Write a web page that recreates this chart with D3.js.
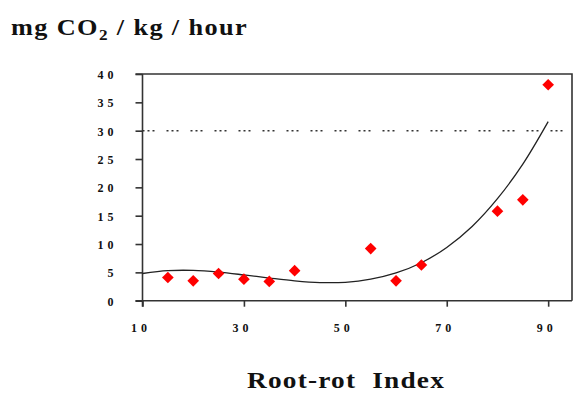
<!DOCTYPE html>
<html>
<head>
<meta charset="utf-8">
<script src="https://cdn.jsdelivr.net/npm/d3@7"></script>
<style>
  body { margin: 0; background: #fff; }
  svg { display: block; }
  .tick-label { font-family: "Liberation Serif", serif; font-weight: bold; font-size: 12px; letter-spacing: 4px; fill: #111; }
  .title { font-family: "Liberation Serif", serif; font-weight: bold; fill: #111; }
</style>
</head>
<body>
<div id="chart"></div>
<script>
// root-rot index vs respiration
const rootRot = [15, 20, 25, 30, 35, 40, 55, 60, 65, 80, 85, 90];
const co2 = [4.1, 3.5, 4.8, 3.8, 3.4, 5.3, 9.2, 3.5, 6.3, 15.8, 17.8, 38.1];
// trendline
const trendX = [10, 15, 20, 25, 30, 35, 40, 45, 50, 55, 60, 65, 70, 75, 80, 85, 90];
const trendY = [4.8, 5.3, 5.35, 5.05, 4.55, 4.0, 3.5, 3.2, 3.25, 3.8, 4.9, 6.7, 9.4, 13.1, 18.0, 24.1, 31.6];
const xTicks = [10, 30, 50, 70, 90];
const yTicks = [0, 5, 10, 15, 20, 25, 30, 35, 40];
const threshold = 30;

const width = 573, height = 394;

const svg = d3.select('#chart')
  .append('svg')
  .attr('width', width)
  .attr('height', height);

const x = d3.scaleLinear().domain([10, 94.7]).range([142.5, 572]);
const y = d3.scaleLinear().domain([0, 40]).range([300.7, 74]);

// frame
svg.append('path')
  .attr('d', `M${x(10) - 7},${y(40)}H${x.range()[1]}V${y(0)}`)
  .attr('fill', 'none')
  .attr('stroke', '#333')
  .attr('stroke-width', 1.6);

// y axis
const yAxis = svg.append('g')
  .attr('transform', `translate(${x(10)},0)`)
  .call(d3.axisLeft(y).tickValues(yTicks).tickSize(7).tickFormat(d3.format('d')));
yAxis.select('.domain').attr('d', `M0,${y(40)}V${y(0) + 6}`);

// x axis
const xAxis = svg.append('g')
  .attr('transform', `translate(0,${y(0)})`)
  .call(d3.axisBottom(x).tickValues(xTicks).tickSize(6).tickFormat(d3.format('d')));
xAxis.select('.domain').attr('d', `M${x(10) - 7},0H${x.range()[1]}`);

svg.selectAll('.domain, .tick line')
  .attr('stroke', '#333')
  .attr('stroke-width', 1.6);

yAxis.selectAll('.tick text')
  .attr('class', 'tick-label')
  .attr('x', -25)
  .attr('dy', '0.36em')
  .attr('font-family', null).attr('font-size', null);
xAxis.selectAll('.tick text')
  .attr('class', 'tick-label')
  .attr('dx', -2)
  .attr('y', 23)
  .attr('dy', '0.7em')
  .attr('font-family', null).attr('font-size', null);

// reference line
svg.append('line')
  .attr('x1', x(10)).attr('x2', x.range()[1])
  .attr('y1', y(threshold)).attr('y2', y(threshold))
  .attr('stroke', '#333')
  .attr('stroke-width', 1.5)
  .attr('stroke-dasharray', '2,3,2,3,2,12');

// trendline
svg.append('path')
  .datum(trendX.map((v, i) => [v, trendY[i]]))
  .attr('d', d3.line().curve(d3.curveCatmullRom).x(d => x(d[0])).y(d => y(d[1])))
  .attr('fill', 'none')
  .attr('stroke', '#222')
  .attr('stroke-width', 1.3);

// points
svg.append('g')
  .selectAll('path')
  .data(rootRot.map((v, i) => [v, co2[i]]))
  .enter()
  .append('path')
  .attr('d', d3.symbol().type(d3.symbolSquare).size(68))
  .attr('transform', d => `translate(${x(d[0])},${y(d[1])}) rotate(45)`)
  .attr('fill', '#ff0000');

// titles
const t = svg.append('text')
  .attr('class', 'title')
  .attr('x', 11)
  .attr('y', 35)
  .attr('font-size', 23)
  .attr('letter-spacing', 1.2)
  .attr('textLength', 237)
  .attr('lengthAdjust', 'spacingAndGlyphs');
t.append('tspan').text('mg CO');
t.append('tspan').attr('font-size', 15).attr('dy', 5).text('2');
t.append('tspan').attr('dy', -5).text(' / kg / hour');

svg.append('text')
  .attr('class', 'title')
  .attr('x', 247)
  .attr('y', 388)
  .attr('font-size', 23)
  .attr('letter-spacing', 1)
  .attr('textLength', 198)
  .attr('lengthAdjust', 'spacingAndGlyphs')
  .text('Root-rot\u00a0 Index');
</script>
</body>
</html>
